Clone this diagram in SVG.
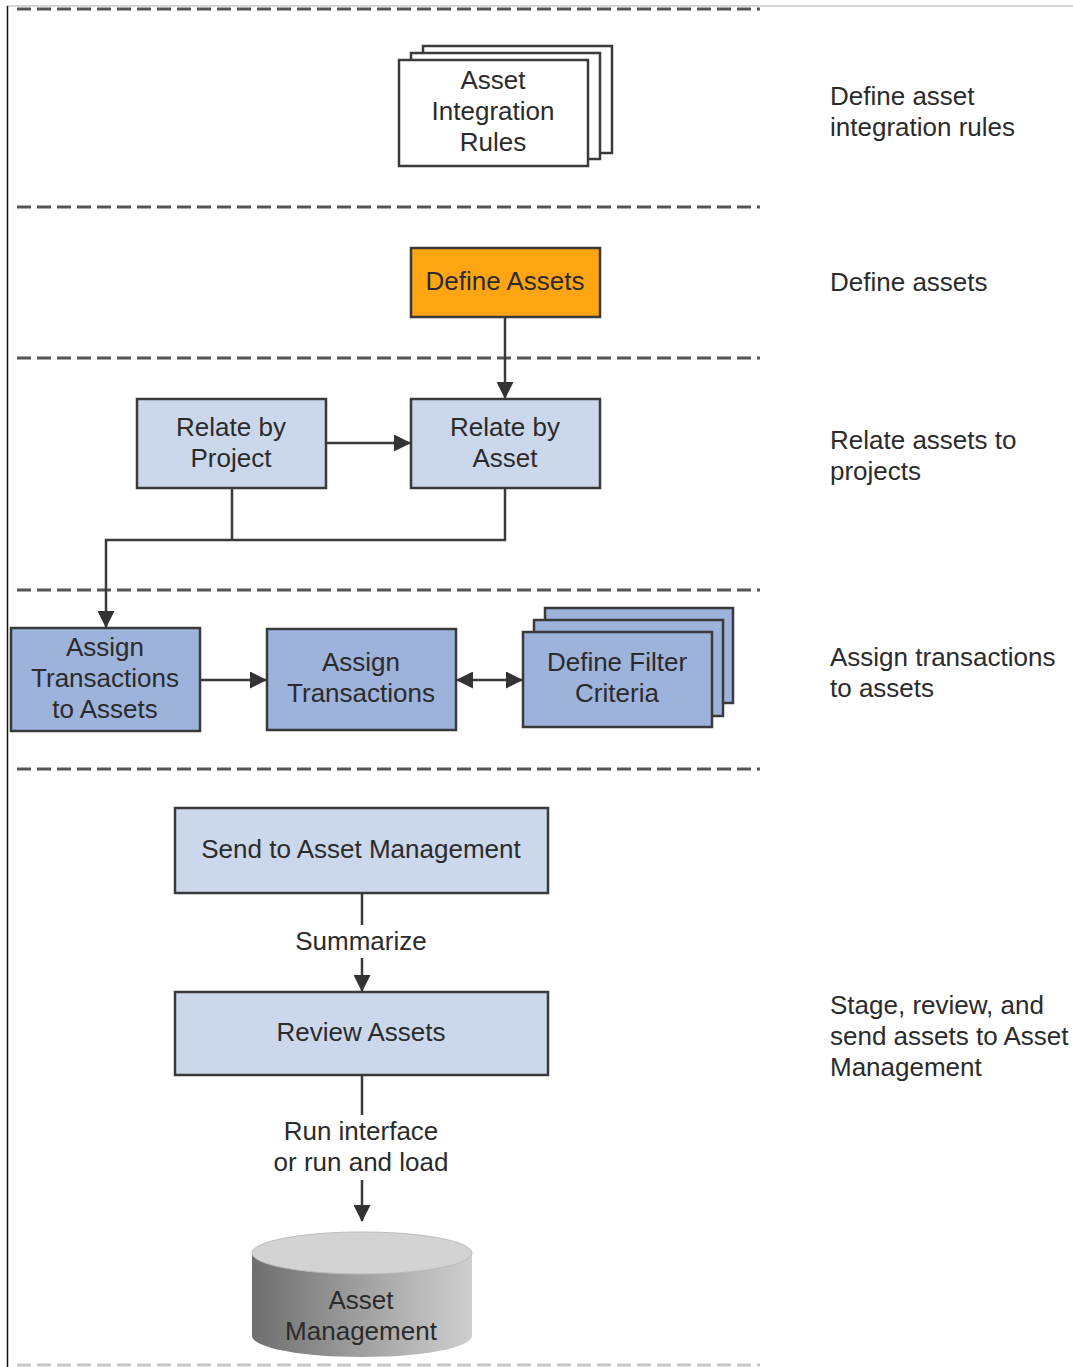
<svg xmlns="http://www.w3.org/2000/svg" width="1073" height="1367" viewBox="0 0 1073 1367">
<style>
text{font-family:"Liberation Sans",Arial,sans-serif;font-size:26px;fill:#2b2b2b;text-anchor:middle}
.lbl{text-anchor:start}
.box{stroke:#3a3a3a;stroke-width:2.5}
.lt{fill:#cbd7eb}
.dk{fill:#9db3db}
.wh{fill:#fff}
.or{fill:#ffa512}
.dash{stroke:#555;stroke-width:3;stroke-dasharray:14 6;fill:none}
.con{stroke:#3a3a3a;stroke-width:2.5;fill:none}
</style>
<defs>
<marker id="ah" markerUnits="userSpaceOnUse" markerWidth="17" markerHeight="17" refX="16" refY="8.5" orient="auto-start-reverse" viewBox="0 0 17 17">
<path d="M0,0 L17,8.5 L0,17 Z" fill="#333"/>
</marker>
<linearGradient id="cyl" x1="0" y1="0" x2="1" y2="0">
<stop offset="0" stop-color="#6e6e6e"/>
<stop offset="0.6" stop-color="#aaaaaa"/>
<stop offset="1" stop-color="#cfcfcf"/>
</linearGradient>
</defs>
<rect width="1073" height="1367" fill="#fff"/>
<g id="frame">
<line x1="7" y1="6" x2="1073" y2="6" stroke="#c8c8c8" stroke-width="1.5"/>
<line x1="7.5" y1="6" x2="7.5" y2="1367" stroke="#111" stroke-width="1.5"/>
</g>
<g id="separators">
<line class="dash" x1="17" y1="9" x2="760" y2="9"/>
<line class="dash" x1="17" y1="207" x2="760" y2="207"/>
<line class="dash" x1="17" y1="358" x2="760" y2="358"/>
<line class="dash" x1="17" y1="590" x2="760" y2="590"/>
<line class="dash" x1="17" y1="769" x2="760" y2="769"/>
<line x1="17" y1="1365" x2="760" y2="1365" stroke="#c8c8c8" stroke-width="3" stroke-dasharray="14 6"/>
</g>
<g id="connectors">
<line class="con" x1="505" y1="317" x2="505" y2="398" marker-end="url(#ah)"/>
<line class="con" x1="326" y1="443" x2="410" y2="443" marker-end="url(#ah)"/>
<polyline class="con" points="232,488 232,540"/>
<polyline class="con" points="505,488 505,540 106,540 106,627" marker-end="url(#ah)"/>
<line class="con" x1="200" y1="680" x2="266" y2="680" marker-end="url(#ah)"/>
<line class="con" x1="457" y1="680" x2="522" y2="680" marker-start="url(#ah)" marker-end="url(#ah)"/>
<line class="con" x1="362" y1="893" x2="362" y2="925"/>
<line class="con" x1="362" y1="958" x2="362" y2="991" marker-end="url(#ah)"/>
<line class="con" x1="362" y1="1075" x2="362" y2="1115"/>
<line class="con" x1="362" y1="1180" x2="362" y2="1221" marker-end="url(#ah)"/>
<text x="361" y="950">Summarize</text>
<text x="361" y="1140">Run interface</text>
<text x="361" y="1171">or run and load</text>
</g>
<g id="asset-integration-rules">
<rect class="box wh" x="423" y="46" width="189" height="107"/>
<rect class="box wh" x="411" y="53" width="189" height="106"/>
<rect class="box wh" x="399" y="60" width="189" height="106"/>
<text x="493" y="89">Asset</text>
<text x="493" y="120">Integration</text>
<text x="493" y="151">Rules</text>
</g>
<g id="define-assets">
<rect class="box or" x="411" y="248" width="189" height="69"/>
<text x="505" y="290">Define Assets</text>
</g>
<g id="relate-by-project">
<rect class="box lt" x="137" y="399" width="189" height="89"/>
<text x="231" y="436">Relate by</text>
<text x="231" y="467">Project</text>
</g>
<g id="relate-by-asset">
<rect class="box lt" x="411" y="399" width="189" height="89"/>
<text x="505" y="436">Relate by</text>
<text x="505" y="467">Asset</text>
</g>
<g id="assign-transactions-to-assets">
<rect class="box dk" x="11" y="628" width="189" height="103"/>
<text x="105" y="656">Assign</text>
<text x="105" y="687">Transactions</text>
<text x="105" y="718">to Assets</text>
</g>
<g id="assign-transactions">
<rect class="box dk" x="267" y="629" width="189" height="101"/>
<text x="361" y="671">Assign</text>
<text x="361" y="702">Transactions</text>
</g>
<g id="define-filter-criteria">
<rect class="box dk" x="545" y="608" width="188" height="95"/>
<rect class="box dk" x="534" y="620" width="189" height="96"/>
<rect class="box dk" x="523" y="632" width="189" height="95"/>
<text x="617" y="671">Define Filter</text>
<text x="617" y="702">Criteria</text>
</g>
<g id="send-to-asset-management">
<rect class="box lt" x="175" y="808" width="373" height="85"/>
<text x="361" y="858">Send to Asset Management</text>
</g>
<g id="review-assets">
<rect class="box lt" x="175" y="992" width="373" height="83"/>
<text x="361" y="1041">Review Assets</text>
</g>
<g id="asset-management">
<path d="M252,1253 L252,1336 A110,21 0 0 0 472,1336 L472,1253 Z" fill="url(#cyl)"/>
<ellipse cx="362" cy="1253" rx="110" ry="21" fill="#d3d3d3" stroke="#bbb" stroke-width="1"/>
<text x="361" y="1309">Asset</text>
<text x="361" y="1340">Management</text>
</g>
<g id="phase-labels">
<text class="lbl" x="830" y="105">Define asset</text>
<text class="lbl" x="830" y="136">integration rules</text>
<text class="lbl" x="830" y="291">Define assets</text>
<text class="lbl" x="830" y="449">Relate assets to</text>
<text class="lbl" x="830" y="480">projects</text>
<text class="lbl" x="830" y="666">Assign transactions</text>
<text class="lbl" x="830" y="697">to assets</text>
<text class="lbl" x="830" y="1014">Stage, review, and</text>
<text class="lbl" x="830" y="1045">send assets to Asset</text>
<text class="lbl" x="830" y="1076">Management</text>
</g>
</svg>
